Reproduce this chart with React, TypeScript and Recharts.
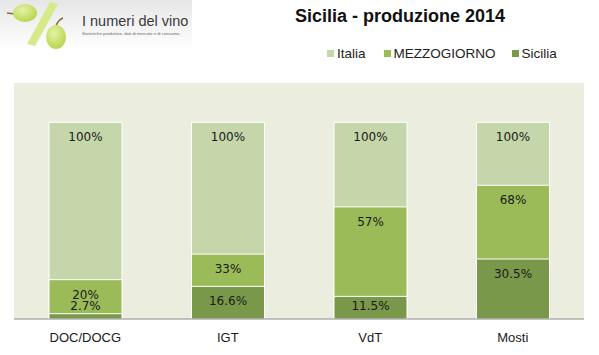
import React from "react";
import { BarChart, Bar, XAxis, YAxis, CartesianGrid, LabelList } from "recharts";

const categories = ["DOC/DOCG", "IGT", "VdT", "Mosti"];
const italia = [100, 100, 100, 100];
const mezzogiorno = [20, 33, 57, 68];
const sicilia = [2.7, 16.6, 11.5, 30.5];

const seriesNames = ["Italia", "MEZZOGIORNO", "Sicilia"];
const seriesColors = ["#C4D6AA", "#9BBB59", "#7A9849"];

const data = categories.map((c, i) => ({
  cat: c,
  italia: italia[i],
  mezzogiorno: mezzogiorno[i],
  sicilia: sicilia[i],
}));

const FONT = "'Liberation Sans', Arial, sans-serif";

function fmt(v: number) {
  return Number.isInteger(v) ? `${v}%` : `${v.toFixed(1)}%`;
}

// label sits near the top of the bar, but never below bottom - 13
// eslint-disable-next-line @typescript-eslint/no-explicit-any
function renderLabel(props: any) {
  const { x, y, width, height, value } = props;
  const bottom = y + height;
  const cy = Math.min(y + 15, bottom - 13);
  return (
    <text
      x={x + width / 2}
      y={cy + 4}
      textAnchor="middle"
      fontFamily="'DejaVu Sans', Verdana, sans-serif"
      fontSize={12}
      fill="#1a1a1a"
    >
      {fmt(Number(value))}
    </text>
  );
}

function Logo() {
  return (
    <div style={{ position: "absolute", left: 0, top: 0, width: 196, height: 50 }}>
      <svg width={196} height={50}>
        <defs>
          <linearGradient id="lg" x1="0" y1="0" x2="0" y2="1">
            <stop offset="0" stopColor="#e6e6e6" />
            <stop offset="1" stopColor="#ffffff" />
          </linearGradient>
          <radialGradient id="grape" cx="0.4" cy="0.35" r="0.7">
            <stop offset="0" stopColor="#e4f3a6" />
            <stop offset="1" stopColor="#b5d44a" />
          </radialGradient>
        </defs>
        <rect x={0} y={0} width={192} height={50} fill="url(#lg)" />
        <line x1={7} y1={13} x2={15} y2={14} stroke="#8a6a3a" strokeWidth={1.5} />
        <ellipse cx={25} cy={13} rx={12} ry={9} fill="url(#grape)" />
        <polygon points="50,2 58,4 35,46 27,44" fill="#d6ea8a" />
        <path d="M56 26 Q58 20 63 18" stroke="#8a6a3a" strokeWidth={1.5} fill="none" />
        <ellipse cx={56} cy={37} rx={10} ry={12} fill="url(#grape)" />
        <text x={82} y={26} fontFamily={FONT} fontSize={14.5} fill="#3a3a3a">
          I numeri del vino
        </text>
        <text x={82} y={35} fontFamily={FONT} fontSize={4.3} fill="#666">
          Statistiche produttive, dati di mercato e di consumo,
        </text>
      </svg>
    </div>
  );
}

function LegendBox() {
  return (
    <div style={{ position: "absolute", top: 46, left: 327, display: "flex", alignItems: "center" }}>
      {seriesNames.map((n, i) => (
        <div key={n} style={{ display: "flex", alignItems: "center", marginRight: i === 0 ? 18 : 16 }}>
          <span style={{ width: 7, height: 7, background: seriesColors[i], marginRight: 3, display: "inline-block" }} />
          <span style={{ fontSize: 13.5, color: "#222", fontFamily: FONT }}>{n}</span>
        </div>
      ))}
    </div>
  );
}

export default function App() {
  return (
    <div style={{ position: "absolute", left: 0, top: 0, width: 599, height: 355, background: "#fff" }}>
      <Logo />
      <div
        style={{
          position: "absolute",
          left: 250,
          width: 300,
          top: 6,
          textAlign: "center",
          fontFamily: FONT,
          fontWeight: "bold",
          fontSize: 18,
          color: "#111",
        }}
      >
        Sicilia - produzione 2014
      </div>
      <LegendBox />
      <div style={{ position: "absolute", left: 0, top: 0 }}>
        <BarChart
          width={599}
          height={355}
          data={data}
          margin={{ top: 83, right: 15, bottom: 6, left: 14 }}
          barSize={73}
          barGap={-73}
        >
          <CartesianGrid fill="#EBEEDF" stroke="none" horizontal={false} vertical={false} />
          <XAxis
            dataKey="cat"
            height={30}
            tickLine={false}
            stroke="#8c8c8c"
            tick={{ fill: "#1a1a1a", fontSize: 13, fontFamily: FONT }}
            tickMargin={8}
          />
          <YAxis hide domain={[0, 120]} />
          <Bar dataKey="italia" name={seriesNames[0]} fill={seriesColors[0]} stroke="#fff" strokeWidth={1} isAnimationActive={false}>
            <LabelList dataKey="italia" content={renderLabel} />
          </Bar>
          <Bar dataKey="mezzogiorno" name={seriesNames[1]} fill={seriesColors[1]} stroke="#fff" strokeWidth={1} isAnimationActive={false}>
            <LabelList dataKey="mezzogiorno" content={renderLabel} />
          </Bar>
          <Bar dataKey="sicilia" name={seriesNames[2]} fill={seriesColors[2]} stroke="#fff" strokeWidth={1} isAnimationActive={false}>
            <LabelList dataKey="sicilia" content={renderLabel} />
          </Bar>
        </BarChart>
      </div>
    </div>
  );
}
